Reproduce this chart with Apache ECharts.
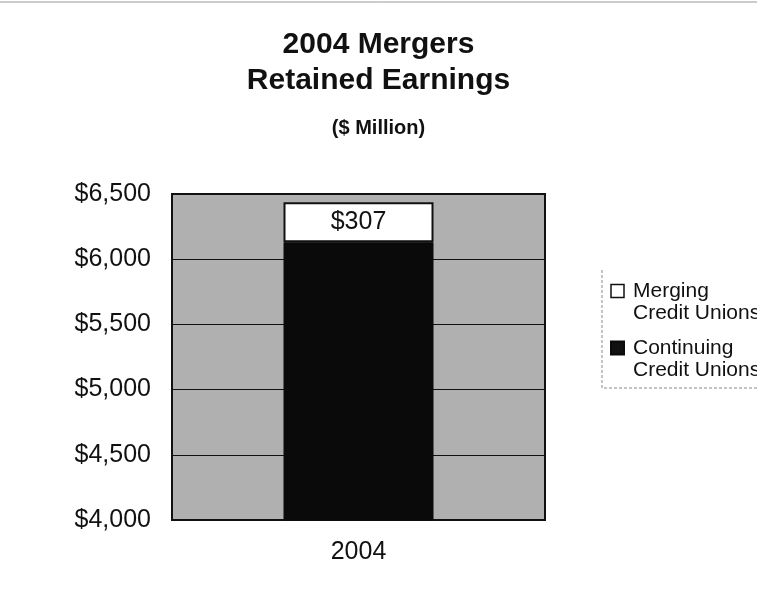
<!DOCTYPE html>
<html>
<head>
<meta charset="utf-8">
<script src="https://cdn.jsdelivr.net/npm/echarts@6/dist/echarts.min.js"></script>
<style>
	html, body { margin: 0; padding: 0; background: #fff; }
	#chart { width: 757px; height: 590px; }
</style>
</head>
<body>
<div id="chart"></div>
<script>
// data ($ million)
var years = ['2004'];
var continuingValues = [6130];
var mergingValues = [307];
var seriesNames = ['Merging\nCredit Unions', 'Continuing\nCredit Unions'];
var yMin = 4000, yMax = 6500, yStep = 500;

var fontFamily = '"Liberation Sans", Arial, sans-serif';

var chart = echarts.init(document.getElementById('chart'), null, { renderer: 'canvas' });

var option = {
	animation: false,
	backgroundColor: '#fff',
	textStyle: { fontFamily: fontFamily, color: '#111' },
	title: [
		{
			text: '2004 Mergers\nRetained Earnings',
			left: 'center', top: 22,
			textStyle: { fontFamily: fontFamily, fontSize: 30, fontWeight: 'bold', lineHeight: 36, color: '#111' }
		},
		{
			text: '($ Million)',
			left: 'center', top: 113,
			textStyle: { fontFamily: fontFamily, fontSize: 20, fontWeight: 'bold', color: '#111' }
		}
	],
	legend: {
		orient: 'vertical',
		left: 610, top: 258,
		padding: 0,
		data: [
			{ name: seriesNames[0], icon: 'rect', itemStyle: { color: '#fff', borderColor: '#111', borderWidth: 1.5 } },
			{ name: seriesNames[1], icon: 'rect', itemStyle: { color: '#111' } }
		],
		// a leading empty line puts the icon beside the first line of the name
		formatter: function (name) {
			return '\n' + name.split('\n').map(function (s) { return '{t|' + s + '}'; }).join('\n');
		},
		itemWidth: 13, itemHeight: 13,
		itemGap: -9,
		selectedMode: false,
		textStyle: {
			fontFamily: fontFamily, fontSize: 21, lineHeight: 22, color: '#111',
			rich: { t: { fontFamily: fontFamily, fontSize: 21, lineHeight: 22, color: '#111', padding: [0, 0, 0, 4] } }
		}
	},
	grid: {
		left: 172, right: 212, top: 194, bottom: 70,
		show: true,
		backgroundColor: '#b0b0b0',
		borderColor: '#111',
		borderWidth: 2
	},
	xAxis: {
		type: 'category',
		data: years,
		axisLine: { show: false },
		axisTick: { show: false },
		axisLabel: { fontFamily: fontFamily, fontSize: 25, color: '#111', margin: 20 }
	},
	yAxis: {
		type: 'value',
		min: yMin, max: yMax, interval: yStep,
		axisLine: { show: false },
		axisTick: { show: false },
		splitLine: { lineStyle: { color: '#111', width: 1 } },
		axisLabel: {
			fontFamily: fontFamily, fontSize: 25, color: '#111', margin: 21,
			formatter: function (v) { return '$' + v.toLocaleString('en-US'); }
		}
	},
	series: [
		{
			name: seriesNames[1],
			type: 'bar',
			stack: 'total',
			barWidth: 150,
			clip: true,
			data: continuingValues,
			itemStyle: { color: '#0a0a0a', borderColor: '#0a0a0a', borderWidth: 1 }
		},
		{
			name: seriesNames[0],
			type: 'bar',
			stack: 'total',
			barWidth: 150,
			data: mergingValues,
			itemStyle: { color: '#fff', borderColor: '#111', borderWidth: 2 },
			label: {
				show: true, position: 'inside',
				fontFamily: fontFamily, fontSize: 25, color: '#111',
				formatter: function (p) { return '$' + p.value; }
			}
		}
	],
	graphic: [
		{
			// faint scan line at the top edge
			type: 'line', shape: { x1: 0, y1: 2, x2: 757, y2: 2 },
			style: { stroke: '#999', lineWidth: 1 }
		},
		{
			// legend frame, left and bottom edges
			type: 'polyline', shape: { points: [[602, 270], [602, 388], [757, 388]] },
			style: { stroke: '#888', lineWidth: 1, lineDash: [3, 2], fill: null }
		}
	]
};

chart.setOption(option);
</script>
</body>
</html>
